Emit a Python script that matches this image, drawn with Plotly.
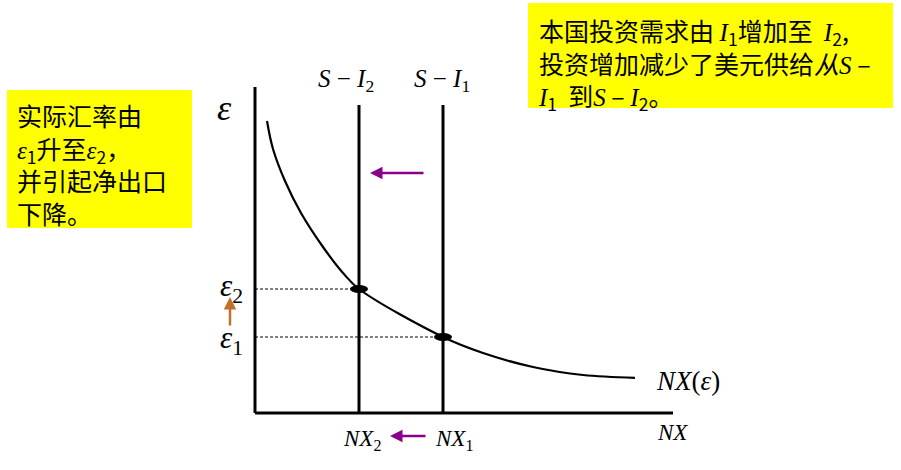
import plotly.graph_objects as go

# ---- data (NX units horizontally, real-exchange-rate units vertically) ----
nx_curve = [0.3, 0.45, 0.75, 1.15, 1.7, 2.2, 2.6, 4.7, 5.7, 6.95, 8.2, 9.5]
eps_curve = [7.3, 6.6, 5.8, 5.0, 4.15, 3.5, 3.1, 1.9, 1.5, 1.15, 0.95, 0.88]
nx_levels = {"NX1": 4.7, "NX2": 2.6}       # S-I1 and S-I2 positions
eps_levels = {"eps1": 1.9, "eps2": 3.1}
si_top = 7.7
axis_x_max = 10.45
axis_y_max = 8.15

W, H = 901, 470
SERIF = "Liberation Serif"
CJK = "Noto Sans CJK SC"

def px(x):
    return x / W

def py(y):
    return 1 - y / H

def ser(t, italic=True):
    s = f"<span style='font-family:{SERIF}'>{t}</span>"
    return f"<i>{s}</i>" if italic else s

fig = go.Figure()

# axes
fig.add_trace(go.Scatter(x=[0, 0], y=[axis_y_max, 0], mode="lines",
                         line=dict(color="black", width=3), hoverinfo="skip"))
fig.add_trace(go.Scatter(x=[0, axis_x_max], y=[0, 0], mode="lines",
                         line=dict(color="black", width=3), hoverinfo="skip"))
# S-I lines
for k in ["NX2", "NX1"]:
    fig.add_trace(go.Scatter(x=[nx_levels[k], nx_levels[k]], y=[0, si_top], mode="lines",
                             line=dict(color="black", width=3), hoverinfo="skip"))
# NX curve
fig.add_trace(go.Scatter(x=nx_curve, y=eps_curve, mode="lines",
                         line=dict(color="black", width=2.2, shape="spline", smoothing=1.0),
                         hoverinfo="skip"))
# dashed guides
for nk, ek in [("NX2", "eps2"), ("NX1", "eps1")]:
    fig.add_trace(go.Scatter(x=[0, nx_levels[nk]], y=[eps_levels[ek], eps_levels[ek]],
                             mode="lines", line=dict(color="black", width=1, dash="3px,2px"),
                             hoverinfo="skip"))

shapes = []
# equilibrium dots (ellipses)
for nk, ek in [("NX2", "eps2"), ("NX1", "eps1")]:
    shapes.append(dict(type="circle", xref="x", yref="y",
                       x0=nx_levels[nk] - 0.225, x1=nx_levels[nk] + 0.225,
                       y0=eps_levels[ek] - 0.1, y1=eps_levels[ek] + 0.1,
                       fillcolor="black", line=dict(color="black", width=0)))
# yellow boxes
shapes.append(dict(type="rect", xref="paper", yref="paper", x0=px(7), x1=px(192),
                   y0=py(228), y1=py(90), fillcolor="#FFFF00", line=dict(width=0), layer="below"))
shapes.append(dict(type="rect", xref="paper", yref="paper", x0=px(528), x1=px(893),
                   y0=py(108), y1=py(3), fillcolor="#FFFF00", line=dict(width=0), layer="below"))

ann = []
# arrows
purple = "#8B008B"
ann.append(dict(x=2.875, y=6.0, ax=4.25, ay=6.0, xref="x", yref="y", axref="x", ayref="y",
                text="", showarrow=True, arrowhead=2, arrowsize=1, arrowwidth=2.5, arrowcolor=purple))
ann.append(dict(x=3.375, y=-0.575, ax=4.3, ay=-0.575, xref="x", yref="y", axref="x", ayref="y",
                text="", showarrow=True, arrowhead=2, arrowsize=1, arrowwidth=2.5, arrowcolor=purple))
ann.append(dict(x=-0.625, y=2.9, ax=-0.625, ay=2.15, xref="x", yref="y", axref="x", ayref="y",
                text="", showarrow=True, arrowhead=2, arrowsize=1, arrowwidth=2.5, arrowcolor="#C0712B"))

def label(text, x, y, size, family=SERIF, xanchor="center", yanchor="middle", color="black"):
    ann.append(dict(text=text, x=px(x), y=py(y), xref="paper", yref="paper", showarrow=False,
                    xanchor=xanchor, yanchor=yanchor, align="left",
                    font=dict(family=family, size=size, color=color)))

label("<i>S</i> − <i>I</i><sub>2</sub>", 346, 80, 25)
label("<i>S</i> − <i>I</i><sub>1</sub>", 442, 80, 25)
label("<i>ε</i>", 224, 108, 36)
label("<i>ε</i><sub>2</sub>", 231, 288, 31)
label("<i>ε</i><sub>1</sub>", 231, 340, 31)
label("<i>NX</i><sub>2</sub>", 362, 440, 23)
label("<i>NX</i><sub>1</sub>", 454, 440, 23)
label("<i>NX</i>", 672, 432, 23)
label("<i>NX</i>(<i>ε</i>)", 688, 381, 27)

left_text = ("实际汇率由<br>" + ser("ε") + "<sub>1</sub>升至" + ser("ε") + "<sub>2</sub>，<br>"
             "并引起净出口<br>下降。")
label(left_text, 15, 95, 25, family=CJK, xanchor="left", yanchor="top")

right_text = ("本国投资需求由 " + ser("I") + "<sub>1</sub>增加至  " + ser("I") + "<sub>2</sub>,<br>"
              "投资增加减少了美元供给<i>从</i>" + ser("S") + " –<br>"
              + ser("I") + "<sub>1</sub>  到" + ser("S") + " – " + ser("I") + "<sub>2</sub>。")
label(right_text, 536, 10, 25, family=CJK, xanchor="left", yanchor="top")

fig.update_layout(
    width=W, height=H, margin=dict(l=0, r=0, t=0, b=0),
    paper_bgcolor="white", plot_bgcolor="white", showlegend=False,
    xaxis=dict(range=[-255 / 40, 646 / 40], visible=False, fixedrange=True),
    yaxis=dict(range=[(413 - 470) / 40, 413 / 40], visible=False, fixedrange=True),
    shapes=shapes, annotations=ann,
)

fig.write_html("out.html")
